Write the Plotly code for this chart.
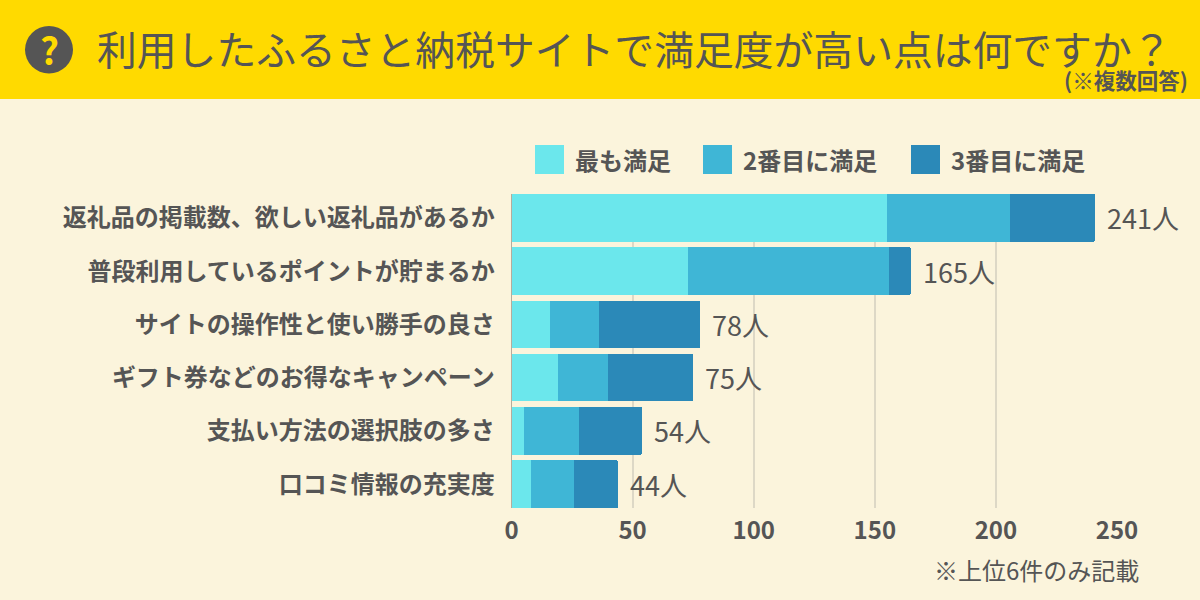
import plotly.graph_objects as go

categories = [
    "返礼品の掲載数、欲しい返礼品があるか",
    "普段利用しているポイントが貯まるか",
    "サイトの操作性と使い勝手の良さ",
    "ギフト券などのお得なキャンペーン",
    "支払い方法の選択肢の多さ",
    "口コミ情報の充実度",
]
first = [155, 73, 16, 19, 5, 8]
second = [51, 83, 20, 21, 23, 18]
third = [35, 9, 42, 35, 26, 18]
totals = [241, 165, 78, 75, 54, 44]
series_names = ["最も満足", "2番目に満足", "3番目に満足"]
x_ticks = [0, 50, 100, 150, 200, 250]

title_text = "利用したふるさと納税サイトで満足度が高い点は何ですか？"
sub_text = "(※複数回答)"
note_text = "※上位6件のみ記載"

W, H = 1200, 600
FONT = "Noto Sans CJK JP"
TEXT = "#555555"
BG = "#FBF4DC"
YELLOW = "#FFDA00"
COLORS = ["#6BE7EC", "#3FB6D6", "#2B89B8"]


def px(x):
    return x / W


def py(y):
    return 1 - y / H


def page_text(x, y, text, size, anchor="left", color=TEXT, weight=400):
    fig.add_annotation(xref="paper", yref="paper", x=px(x), y=py(y), text=text,
                       xanchor=anchor, yanchor="middle", showarrow=False,
                       font=dict(family=FONT, size=size, color=color, weight=weight))


fig = go.Figure()

# stacked bars
for name, vals, color in zip(series_names, [first, second, third], COLORS):
    fig.add_trace(go.Bar(
        y=categories, x=vals, name=name, orientation="h",
        marker=dict(color=color, line_width=0),
        width=0.895, showlegend=False,
    ))

# totals at the end of each bar
for cat, total in zip(categories, totals):
    fig.add_annotation(
        x=total, y=cat, text=f"{total}人", showarrow=False,
        xanchor="left", yanchor="middle", xshift=10, yshift=0,
        font=dict(family=FONT, size=27, color=TEXT),
    )

# header band and question icon
fig.add_shape(type="rect", xref="paper", yref="paper", layer="below",
              x0=0, x1=1, y0=py(99), y1=1, fillcolor=YELLOW, line_width=0)
fig.add_shape(type="circle", xref="paper", yref="paper", layer="below",
              x0=px(25), x1=px(73), y0=py(73.5), y1=py(26),
              fillcolor=TEXT, line_width=0)
page_text(49, 49, "?", 37, anchor="center", color=YELLOW, weight=700)
page_text(94.5, 48, title_text, 39.8)
page_text(1190, 79.5, sub_text, 21.5, anchor="right", weight=700)

# legend
for name, color, x0 in zip(series_names, COLORS, [535, 703, 911]):
    fig.add_shape(type="rect", xref="paper", yref="paper",
                  x0=px(x0), x1=px(x0 + 29), y0=py(174), y1=py(145),
                  fillcolor=color, line_width=0)
    page_text(x0 + 38, 160, name, 24, weight=700)

page_text(1141, 569.5, note_text, 24, anchor="right")

fig.update_layout(
    width=W, height=H,
    barmode="stack",
    barcornerradius=2,
    paper_bgcolor=BG,
    plot_bgcolor="rgba(0,0,0,0)",
    margin=dict(l=0, r=0, t=0, b=0),
    xaxis=dict(
        domain=[px(511.5), px(1117)],
        range=[0, 250],
        automargin=False,
        tickvals=x_ticks,
        showgrid=True, gridcolor="#DDD8C6", gridwidth=1.5,
        zeroline=False, showline=False, ticks="",
        tickfont=dict(family=FONT, size=24, color=TEXT, weight=700),
        ticklabelstandoff=6,
    ),
    yaxis=dict(
        domain=[py(508), py(194)],
        range=[5.4475, -0.4475],
        automargin=False,
        showgrid=False, zeroline=False,
        showline=True, linecolor="#B5AC9C", linewidth=1,
        ticks="",
        tickfont=dict(family=FONT, size=24, color=TEXT, weight=700),
        ticklabelstandoff=11,
    ),
)

fig.write_html("out.html", config=dict(displayModeBar=False),
               post_script="document.body.style.margin='0';")
